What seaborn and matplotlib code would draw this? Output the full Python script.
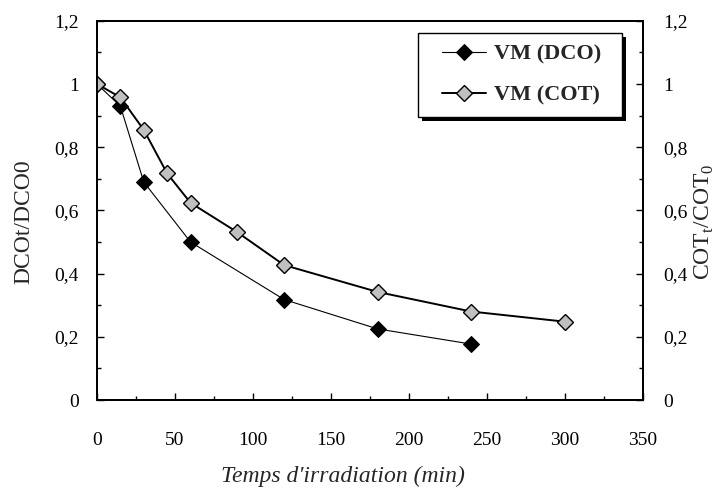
import matplotlib
matplotlib.use("Agg")
import matplotlib.pyplot as plt
from matplotlib.ticker import FuncFormatter, MultipleLocator
from matplotlib.patches import Rectangle
import seaborn as sns
import pandas as pd

# Degradation kinetics of VM: chemical oxygen demand and total organic carbon
t_dco = [0, 15, 30, 60, 120, 180, 240]
dco = [1.0, 0.93, 0.69, 0.50, 0.318, 0.225, 0.177]
t_cot = [0, 15, 30, 45, 60, 90, 120, 180, 240, 300]
cot = [1.0, 0.958, 0.855, 0.717, 0.624, 0.531, 0.427, 0.342, 0.28, 0.248]

sns.set_style("ticks")
plt.rcParams["font.family"] = ["Liberation Serif", "DejaVu Serif"]
plt.rcParams["mathtext.fontset"] = "custom"
plt.rcParams["mathtext.rm"] = "Liberation Serif"

fig = plt.figure(figsize=(7.2, 4.88), dpi=100)
ax = fig.add_axes([0.1347, 0.1803, 0.758, 0.777])

df_dco = pd.DataFrame({"t": t_dco, "v": dco})
df_cot = pd.DataFrame({"t": t_cot, "v": cot})

sns.lineplot(data=df_dco, x="t", y="v", ax=ax, color="black", lw=0.8,
             marker="D", markersize=8.5, markerfacecolor="black",
             markeredgecolor="black", label="VM (DCO)", zorder=3)
sns.lineplot(data=df_cot, x="t", y="v", ax=ax, color="black", lw=1.4,
             marker="D", markersize=8.5, markerfacecolor="#c0c0c0",
             markeredgecolor="black", markeredgewidth=1.0,
             label="VM (COT)", zorder=4)

comma = FuncFormatter(lambda v, p: ("%g" % round(v, 2)).replace(".", ","))

ax.set_xlim(0, 350)
ax.set_ylim(0, 1.2)
ax.xaxis.set_major_locator(MultipleLocator(50))
ax.xaxis.set_minor_locator(MultipleLocator(25))
ax.yaxis.set_major_locator(MultipleLocator(0.2))
ax.yaxis.set_minor_locator(MultipleLocator(0.1))
ax.yaxis.set_major_formatter(comma)

ax2 = ax.twinx()
ax2.set_ylim(0, 1.2)
ax2.yaxis.set_major_locator(MultipleLocator(0.2))
ax2.yaxis.set_minor_locator(MultipleLocator(0.1))
ax2.yaxis.set_major_formatter(comma)

for a in (ax, ax2):
    for s in a.spines.values():
        s.set_linewidth(1.4)
        s.set_color("black")
    a.tick_params(which="both", direction="in", labelsize=14, width=1.0,
                  colors="black", pad=13)
    a.tick_params(which="major", length=5)
    a.tick_params(which="minor", length=3)
ax.tick_params(axis="x", pad=23)
ax2.tick_params(axis="y", pad=15)

ax.set_xlabel("Temps d'irradiation (min)", fontsize=17, style="italic",
              labelpad=12, x=0.45)
ax.set_ylabel("DCOt/DCO0", fontsize=17, labelpad=14, y=0.47)
ax2.set_ylabel(r"COT$_\mathrm{t}$/COT$_\mathrm{0}$", fontsize=17,
               labelpad=3, rotation=90, y=0.47)

# legend box with a solid drop shadow
box_x0, box_y0, box_w, box_h = 0.588, 0.747, 0.3735, 0.221
sx, sy = 4 / 546, 4 / 379
ax.add_patch(Rectangle((box_x0 + sx, box_y0 - sy), box_w, box_h,
                       transform=ax.transAxes, facecolor="black",
                       edgecolor="black", lw=0, zorder=8, clip_on=False))
ax.add_patch(Rectangle((box_x0, box_y0), box_w, box_h,
                       transform=ax.transAxes, facecolor="white",
                       edgecolor="black", lw=1.0, zorder=9, clip_on=False))

leg = ax.legend(loc="center left", bbox_to_anchor=(0.632, 0.8575),
                frameon=False, prop={"weight": "bold", "size": 16},
                handlelength=2.0, borderpad=0, labelspacing=0.95,
                handletextpad=0.35, borderaxespad=0)
leg.set_zorder(10)

fig.savefig("out.png", dpi=100)
